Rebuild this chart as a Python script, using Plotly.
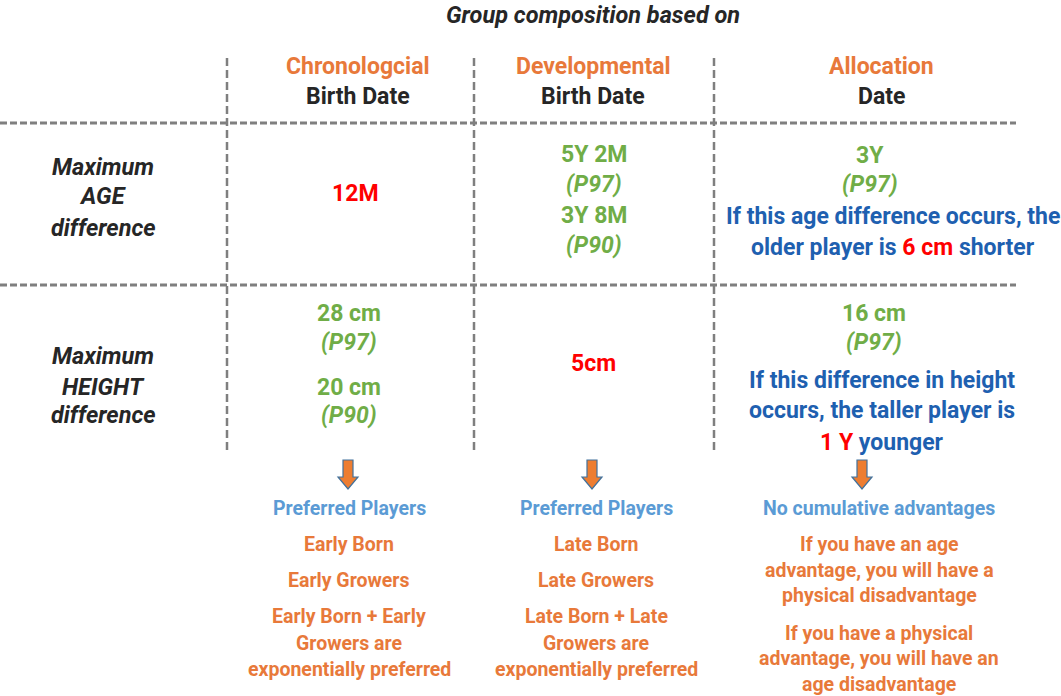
import plotly.graph_objects as go

# ---------------- content ----------------
title_text = "Group composition based on"
col_titles = ["Chronologcial", "Developmental", "Allocation"]
col_subtitles = ["Birth Date", "Birth Date", "Date"]
row_labels = [["Maximum", "AGE", "difference"],
              ["Maximum", "HEIGHT", "difference"]]

# cell lines: (text, style)
age_cells = [
    [("12M", "red")],
    [("5Y 2M", "green"), ("(P97)", "green_i"), ("3Y 8M", "green"), ("(P90)", "green_i")],
    [("3Y", "green"), ("(P97)", "green_i"),
     ("If this age difference occurs, the", "blue"),
     ("older player is <span style='color:#FF0000'>6 cm</span> shorter", "blue")],
]
height_cells = [
    [("28 cm", "green"), ("(P97)", "green_i"), ("20 cm", "green"), ("(P90)", "green_i")],
    [("5cm", "red")],
    [("16 cm", "green"), ("(P97)", "green_i"),
     ("If this difference in height", "blue"),
     ("occurs, the taller player is", "blue"),
     ("<span style='color:#FF0000'>1 Y</span> younger", "blue")],
]
outcome_heads = ["Preferred Players", "Preferred Players", "No cumulative advantages"]
outcome_lines = [
    ["Early Born", "Early Growers", "Early Born + Early", "Growers are", "exponentially preferred"],
    ["Late Born", "Late Growers", "Late Born + Late", "Growers are", "exponentially preferred"],
    ["If you have an age", "advantage, you will have a", "physical disadvantage",
     "If you have a physical", "advantage, you will have an", "age disadvantage"],
]

# ---------------- layout / style ----------------
W, H = 1061, 696
FONT = "Roboto, Liberation Sans, sans-serif"
ORANGE = "#E8793A"
GREEN = "#70AD47"
RED = "#FF0000"
BLUE = "#1E60B0"
LBLUE = "#5B9BD5"
DARK = "#262626"
GRAY = "#7F7F7F"

styles = {
    "red": dict(color=RED, i=False),
    "green": dict(color=GREEN, i=False),
    "green_i": dict(color=GREEN, i=True),
    "blue": dict(color=BLUE, i=False),
}

col_x = [358, 593, 881]
vlines_x = [227, 474, 714]
hlines_y = [123, 285]

age_x = [355, 594, 870]
age_y = [[193], [154, 184, 215, 245], [155, 184]]
age_blue_x = 893
age_blue_y = [216, 247]

h_x = [349, 593, 874]
h_y = [[313, 342, 387, 415], [363], [313, 342]]
h_blue_x = 882
h_blue_y = [380, 410, 442]

label_x = 103
label_y = [[167, 196, 228], [356, 387, 415]]

arrow_x = [348, 592, 862]
out_x = [349, 596, 879]
out_head_y = 508
out_y = [[544, 580, 616, 643, 669], [544, 580, 616, 643, 669],
         [544, 570, 595, 633, 658, 684]]

BODY = 23
annotations = []


def add_text(x, y, text, color, size=BODY, b=True, i=False):
    t = text
    if i:
        t = f"<i>{t}</i>"
    if b:
        t = f"<b>{t}</b>"
    annotations.append(dict(x=x, y=y, xref="x", yref="y", text=t, showarrow=False,
                            xanchor="center", yanchor="middle",
                            font=dict(family=FONT, size=size, color=color)))


add_text(593, 15, title_text, DARK, size=23.5, i=True)

for k in range(3):
    add_text(col_x[k], 66, col_titles[k], ORANGE, size=23)
    add_text(col_x[k], 96, col_subtitles[k], DARK, size=23)

for r in range(2):
    for j, txt in enumerate(row_labels[r]):
        add_text(label_x, label_y[r][j], txt, DARK, size=23.5, i=True)

for c in range(3):
    for j, (txt, st) in enumerate(age_cells[c]):
        s = styles[st]
        if st == "blue":
            add_text(age_blue_x, age_blue_y[j - 2], txt, s["color"], i=s["i"])
        else:
            add_text(age_x[c], age_y[c][j], txt, s["color"], i=s["i"])
    for j, (txt, st) in enumerate(height_cells[c]):
        s = styles[st]
        if st == "blue":
            add_text(h_blue_x, h_blue_y[j - 2], txt, s["color"], i=s["i"])
        else:
            add_text(h_x[c], h_y[c][j], txt, s["color"], i=s["i"])

for c in range(3):
    add_text(out_x[c], out_head_y, outcome_heads[c], LBLUE, size=19.5)
    for j, txt in enumerate(outcome_lines[c]):
        add_text(out_x[c], out_y[c][j], txt, ORANGE, size=19.5)

shapes = []
for x in vlines_x:
    shapes.append(dict(type="line", xref="x", yref="y", x0=x, x1=x, y0=58, y1=453,
                       line=dict(color=GRAY, width=2.5, dash="8px,4px")))
for y in hlines_y:
    shapes.append(dict(type="line", xref="x", yref="y", x0=0, x1=1016, y0=y, y1=y,
                       line=dict(color=GRAY, width=3, dash="7px,3px")))
for x in arrow_x:
    p = (f"M {x-5},460 L {x+5},460 L {x+5},477 L {x+10},477 L {x},489 "
         f"L {x-10},477 L {x-5},477 Z")
    shapes.append(dict(type="path", xref="x", yref="y", path=p,
                       fillcolor="#ED7D31", line=dict(color="#41719C", width=1.2)))

fig = go.Figure()
fig.add_trace(go.Scatter(x=[0, W], y=[0, H], mode="markers",
                         marker=dict(opacity=0), hoverinfo="skip", showlegend=False))
fig.update_layout(
    width=W, height=H,
    margin=dict(l=0, r=0, t=0, b=0),
    paper_bgcolor="white", plot_bgcolor="white",
    xaxis=dict(range=[0, W], visible=False, fixedrange=True),
    yaxis=dict(range=[H, 0], visible=False, fixedrange=True),
    annotations=annotations,
    shapes=shapes,
    showlegend=False,
)
fig.write_html("out.html", config={"displayModeBar": False},
               post_script="document.body.style.margin='0';document.body.style.overflow='hidden';")
